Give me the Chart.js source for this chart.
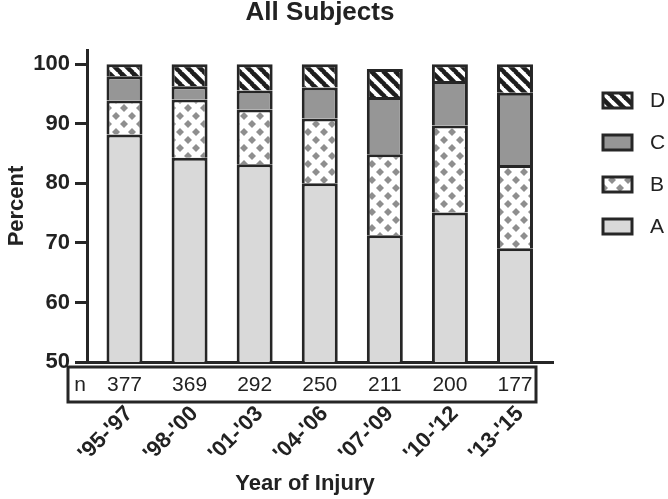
<!DOCTYPE html>
<html>
<head>
<meta charset="utf-8">
<script src="https://cdn.jsdelivr.net/npm/chart.js@4.4.0/dist/chart.umd.min.js"></script>
<style>
  body { margin: 0; background: #fff; }
  #wrap { width: 668px; height: 499px; }
</style>
</head>
<body>
<div id="wrap"><canvas id="chart"></canvas></div>
<script>
//data
const years = ["'95-'97", "'98-'00", "'01-'03", "'04-'06", "'07-'09", "'10-'12", "'13-'15"];
const nValues = [377, 369, 292, 250, 211, 200, 177];
const seriesA = [88.2, 84.3, 83.2, 80.0, 71.3, 75.1, 69.1];
const seriesB = [5.7, 9.8, 9.2, 10.9, 13.6, 14.6, 14.0];
const seriesC = [4.1, 2.2, 3.2, 5.2, 9.6, 7.5, 12.1];
const seriesD = [2.0, 3.7, 4.4, 3.9, 4.7, 2.8, 4.8];
const seriesNames = ["A", "B", "C", "D"];
const yTicks = [50, 60, 70, 80, 90, 100];
const xTitle = "Year of Injury";

const FONT = "'Liberation Sans', Arial, sans-serif";
const INK = "#222";
const EDGE = "#262626";

//patterns
function diamondPattern() {
  const s = 16;
  const c = document.createElement("canvas");
  c.width = s;
  c.height = s;
  const g = c.getContext("2d");
  g.fillStyle = "#fff";
  g.fillRect(0, 0, s, s);
  g.fillStyle = "#8e8e8e";
  const d = (cx, cy) => {
    const r = 4;
    g.beginPath();
    g.moveTo(cx, cy - r);
    g.lineTo(cx + r, cy);
    g.lineTo(cx, cy + r);
    g.lineTo(cx - r, cy);
    g.closePath();
    g.fill();
  };
  d(4, 4);
  d(12, 12);
  return g.createPattern(c, "repeat");
}

function stripePattern() {
  const s = 12;
  const c = document.createElement("canvas");
  c.width = s;
  c.height = s;
  const g = c.getContext("2d");
  g.fillStyle = "#fff";
  g.fillRect(0, 0, s, s);
  g.strokeStyle = "#1e1e1e";
  g.lineWidth = 4.6;
  for (const o of [-s, 0, s]) {
    g.beginPath();
    g.moveTo(o - 1, -1);
    g.lineTo(o + s + 1, s + 1);
    g.stroke();
  }
  return g.createPattern(c, "repeat");
}

const fills = ["#d9d9d9", diamondPattern(), "#969696", stripePattern()];

//n row under the axis + x title
const nRowPlugin = {
  id: "nRow",
  afterDraw(chart) {
    const ctx = chart.ctx;
    const area = chart.chartArea;
    const x = chart.scales.x;
    const top = area.bottom + 5;
    ctx.save();
    ctx.strokeStyle = EDGE;
    ctx.lineWidth = 3;
    ctx.strokeRect(area.left - 19, top, area.right - area.left + 2, 35);
    ctx.fillStyle = INK;
    ctx.font = "21px " + FONT;
    ctx.textAlign = "center";
    ctx.textBaseline = "middle";
    ctx.fillText("n", area.left - 7, top + 18);
    nValues.forEach((v, i) => {
      ctx.fillText(String(v), x.getPixelForValue(i), top + 18);
    });
    ctx.font = "bold 22px " + FONT;
    ctx.fillText(xTitle, (area.left + area.right) / 2 - 15, 484);
    ctx.restore();
  },
};

//legend on the right, D on top
const sideLegend = {
  id: "sideLegend",
  afterDraw(chart) {
    const ctx = chart.ctx;
    const left = chart.chartArea.right + 50;
    ctx.save();
    ctx.font = "21px " + FONT;
    ctx.textBaseline = "middle";
    ctx.textAlign = "left";
    for (let k = 0; k < 4; k++) {
      const i = 3 - k;
      const y = 93 + k * 42;
      ctx.fillStyle = chart.data.datasets[i].backgroundColor;
      ctx.fillRect(left, y, 29, 15);
      ctx.strokeStyle = EDGE;
      ctx.lineWidth = 3;
      ctx.strokeRect(left, y, 29, 15);
      ctx.fillStyle = INK;
      ctx.fillText(chart.data.datasets[i].label, left + 47, y + 8);
    }
    ctx.restore();
  },
};

const datasets = [seriesA, seriesB, seriesC, seriesD].map((vals, i) => ({
  label: seriesNames[i],
  data: vals.map((v, j) => ({ x: j, y: v })),
  backgroundColor: fills[i],
  borderColor: EDGE,
  borderWidth: 3,
  categoryPercentage: 1,
  barPercentage: 0.553,
}));

const config = {
  type: "bar",
  data: { datasets: datasets },
  options: {
    responsive: true,
    maintainAspectRatio: false,
    animation: false,
    layout: { padding: { top: 0, right: 115, bottom: 0, left: 0 } },
    plugins: {
      legend: { display: false },
      tooltip: { enabled: false },
      title: {
        display: true,
        text: "All Subjects",
        color: INK,
        fullSize: false,
        font: { family: FONT, size: 26, weight: "bold", lineHeight: 1.0 },
        padding: { top: 0, bottom: 24 },
      },
    },
    scales: {
      x: {
        type: "linear",
        stacked: true,
        offset: false,
        min: -0.576,
        max: 6.584,
        afterBuildTicks: (s) => {
          s.ticks = years.map((_, i) => ({ value: i }));
        },
        grid: { display: false, offset: false },
        border: { display: true, width: 3, color: EDGE },
        ticks: {
          color: INK,
          autoSkip: false,
          font: { family: FONT, size: 22, weight: "bold" },
          minRotation: 45,
          maxRotation: 45,
          padding: 31,
          labelOffset: 5,
          callback: (v) => years[v],
        },
        afterFit: (s) => {
          s.height = 137;
        },
      },
      y: {
        stacked: true,
        min: 50,
        max: 102.4,
        afterBuildTicks: (s) => {
          s.ticks = yTicks.map((v) => ({ value: v }));
        },
        grid: {
          drawOnChartArea: false,
          drawTicks: true,
          tickLength: 12,
          lineWidth: 3,
          color: EDGE,
        },
        border: { display: true, width: 3, color: EDGE },
        ticks: {
          color: INK,
          font: { family: FONT, size: 22, weight: "bold" },
          padding: 5,
        },
        title: {
          display: true,
          text: "Percent",
          color: INK,
          font: { family: FONT, size: 22, weight: "bold" },
        },
        afterFit: (s) => {
          s.width = 87;
        },
      },
    },
  },
  plugins: [nRowPlugin, sideLegend],
};

const myChart = new Chart(document.getElementById("chart"), config);
</script>
</body>
</html>
